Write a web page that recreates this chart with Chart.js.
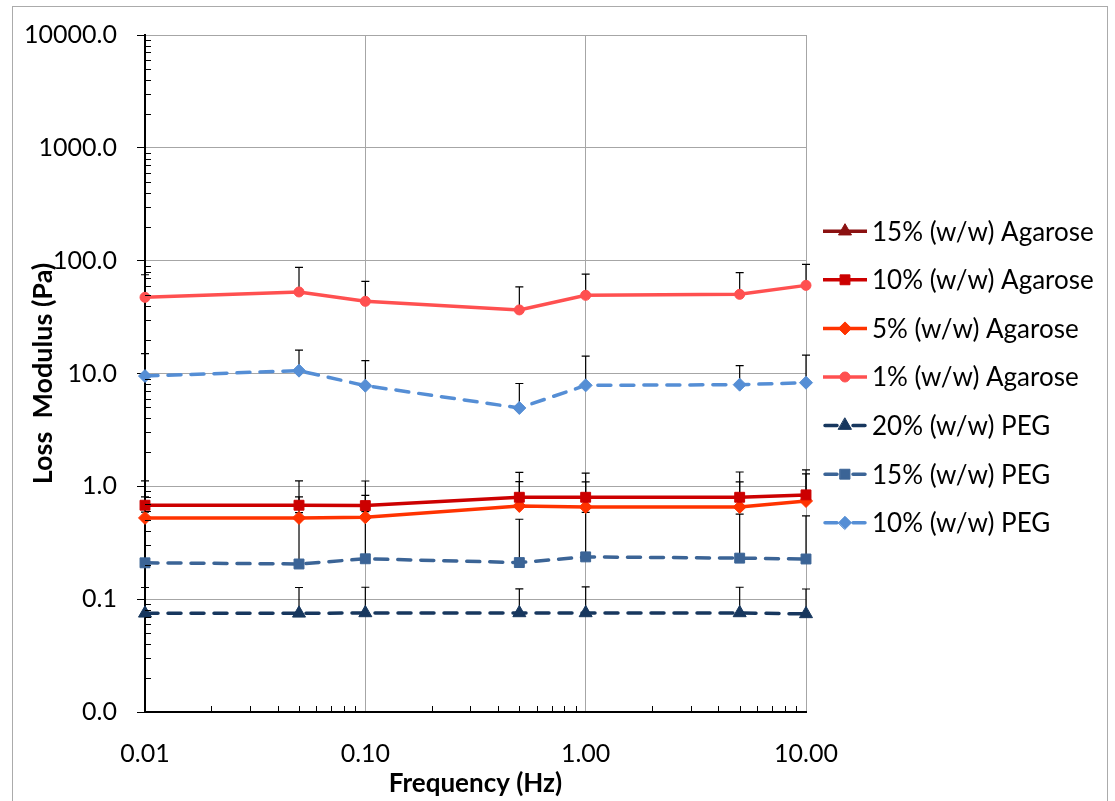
<!DOCTYPE html>
<html>
<head>
<meta charset="utf-8">
<script src="https://cdn.jsdelivr.net/npm/chart.js@4.4.1/dist/chart.umd.min.js"></script>
<style>
  html, body { margin: 0; padding: 0; background: #fff; }
  #wrap { position: relative; width: 1115px; height: 801px; }
</style>
</head>
<body>
<div id="wrap"><canvas id="chart"></canvas></div>
<script>
// frequency sweep (Hz)
const frequency = [0.01, 0.05, 0.1, 0.5, 1, 5, 10];
const xTicks = [0.01, 0.1, 1, 10];
const yTicks = [0.01, 0.1, 1, 10, 100, 1000, 10000];

// loss modulus (Pa) + plus-side error
const agarose15 = [null, null, null, null, null, null, null];
const agarose15Err = [null, null, null, null, null, null, null];
const agarose10 = [0.68, 0.68, 0.675, 0.80, 0.80, 0.80, 0.84];
const agarose10Err = [0.44, 0.44, 0.44, 0.53, 0.51, 0.54, 0.56];
const agarose5 = [0.525, 0.525, 0.532, 0.67, 0.656, 0.656, 0.742];
const agarose5Err = [0.28, 0.28, 0.30, 0.43, 0.44, 0.44, 0.55];
const agarose1 = [47.3, 52.8, 43.6, 36.6, 49.3, 50.3, 60.4];
const agarose1Err = [27.7, 34.3, 21.9, 21.9, 26.8, 27.9, 32.2];
const peg20 = [0.0749, 0.0749, 0.0755, 0.0755, 0.0755, 0.0755, 0.074];
const peg20Err = [0.052, 0.052, 0.052, 0.048, 0.053, 0.052, 0.049];
const peg15 = [0.210, 0.205, 0.228, 0.211, 0.237, 0.231, 0.227];
const peg15Err = [0.38, 0.38, 0.37, 0.30, 0.35, 0.335, 0.32];
const peg10 = [9.49, 10.6, 7.80, 4.95, 7.85, 7.96, 8.29];
const peg10Err = [5.5, 5.5, 5.2, 3.2, 6.4, 3.8, 6.25];

const FONT = 'Lato, "Open Sans", sans-serif';

function series(label, values, errs, color, style, radius, dashed) {
  return {
    label,
    data: frequency.map((f, i) => ({ x: f, y: values[i] })),
    errs,
    borderColor: color,
    backgroundColor: color,
    borderWidth: 3.5,
    borderDash: dashed ? [13, 10] : [],
    borderCapStyle: dashed ? 'round' : 'butt',
    pointStyle: style,
    pointRadius: radius,
    pointHoverRadius: radius,
    pointBorderWidth: 1,
    pointBackgroundColor: color,
    pointBorderColor: color,
    tension: 0,
    clip: false,
    spanGaps: false,
  };
}

const datasets = [
  series('15% (w/w) Agarose', agarose15, agarose15Err, '#8B1111', 'triangle', 7.5, false),
  series('10% (w/w) Agarose', agarose10, agarose10Err, '#CC0000', 'rect', 7, false),
  series('5% (w/w) Agarose', agarose5, agarose5Err, '#FF3300', 'rectRot', 6.5, false),
  series('1% (w/w) Agarose', agarose1, agarose1Err, '#FF5050', 'circle', 5, false),
  series('20% (w/w) PEG', peg20, peg20Err, '#17375E', 'triangle', 7.5, true),
  series('15% (w/w) PEG', peg15, peg15Err, '#3B6496', 'rect', 7, true),
  series('10% (w/w) PEG', peg10, peg10Err, '#558ED5', 'rectRot', 6.5, true),
];

// white background + outer frame
const framePlugin = {
  id: 'frame',
  beforeDraw(chart) {
    const ctx = chart.ctx;
    ctx.save();
    ctx.fillStyle = '#fff';
    ctx.fillRect(0, 0, chart.width, chart.height);
    ctx.strokeStyle = '#ABABAB';
    ctx.lineWidth = 1;
    ctx.strokeRect(12.5, 6.5, chart.width - 20, chart.height);
    ctx.restore();
  }
};

// minor log ticks pointing into the plot
const minorTicks = {
  id: 'minorTicks',
  afterDraw(chart) {
    const { ctx, scales: { x, y } } = chart;
    ctx.save();
    ctx.strokeStyle = '#000';
    ctx.lineWidth = 1;
    ctx.beginPath();
    for (let d = 0.01; d < 5000; d *= 10) {
      for (let k = 2; k <= 9; k++) {
        const py = Math.round(y.getPixelForValue(d * k)) + 0.5;
        ctx.moveTo(x.left, py);
        ctx.lineTo(x.left + 6, py);
      }
    }
    for (let d = 0.01; d < 5; d *= 10) {
      for (let k = 2; k <= 9; k++) {
        const px = Math.round(x.getPixelForValue(d * k)) + 0.5;
        ctx.moveTo(px, y.bottom);
        ctx.lineTo(px, y.bottom - 6);
      }
    }
    ctx.stroke();
    ctx.restore();
  }
};

// plus-only error bars
const errorBars = {
  id: 'errorBars',
  beforeDatasetsDraw(chart) {
    const { ctx, scales: { x, y } } = chart;
    ctx.save();
    ctx.strokeStyle = '#000';
    ctx.lineWidth = 1.2;
    chart.data.datasets.forEach(ds => {
      ds.data.forEach((p, i) => {
        const e = ds.errs[i];
        if (p.y == null || e == null) return;
        const px = x.getPixelForValue(p.x);
        const y0 = y.getPixelForValue(p.y);
        const y1 = y.getPixelForValue(p.y + e);
        ctx.beginPath();
        ctx.moveTo(px, y0);
        ctx.lineTo(px, y1);
        ctx.moveTo(px - 4, y1);
        ctx.lineTo(px + 4, y1);
        ctx.stroke();
      });
    });
    ctx.restore();
  }
};

// legend on the right: line + marker + label
const sideLegend = {
  id: 'sideLegend',
  afterDraw(chart) {
    const { ctx, chartArea } = chart;
    const x0 = chartArea.right + 17;
    const mid = (chartArea.top + chartArea.bottom) / 2 + 3.5;
    const step = 48.6;
    const n = chart.data.datasets.length;
    ctx.save();
    chart.data.datasets.forEach((ds, i) => {
      const yy = mid + (i - (n - 1) / 2) * step;
      ctx.strokeStyle = ds.borderColor;
      ctx.lineWidth = 3.5;
      ctx.setLineDash([]);
      ctx.beginPath();
      if (ds.borderDash.length) {
        ctx.lineCap = 'round';
        ctx.moveTo(x0 + 2, yy); ctx.lineTo(x0 + 14, yy);
        ctx.moveTo(x0 + 30, yy); ctx.lineTo(x0 + 42, yy);
      } else {
        ctx.lineCap = 'butt';
        ctx.moveTo(x0, yy); ctx.lineTo(x0 + 44, yy);
      }
      ctx.stroke();
      ctx.fillStyle = ds.pointBackgroundColor;
      ctx.lineWidth = 1;
      Chart.helpers.drawPoint(ctx, { pointStyle: ds.pointStyle, radius: ds.pointRadius, rotation: 0, borderWidth: 1 }, x0 + 22, yy);
      ctx.fillStyle = '#000';
      ctx.font = '26px ' + FONT;
      ctx.textBaseline = 'middle';
      ctx.textAlign = 'left';
      ctx.fillText(ds.label, x0 + 49, yy + 1);
    });
    ctx.restore();
  }
};

new Chart(document.getElementById('chart'), {
  type: 'line',
  data: { datasets },
  plugins: [framePlugin, errorBars, minorTicks, sideLegend],
  options: {
    responsive: true,
    maintainAspectRatio: false,
    animation: false,
    layout: { padding: { top: 32, right: 309, bottom: 0, left: 0 } },
    plugins: {
      legend: { display: false },
      tooltip: { enabled: false },
    },
    scales: {
      x: {
        type: 'logarithmic',
        min: 0.01,
        max: 10,
        afterBuildTicks: s => { s.ticks = xTicks.map(v => ({ value: v })); },
        afterFit: s => { s.height = 89; },
        ticks: {
          color: '#000',
          font: { family: FONT, size: 25 },
          padding: 27,
          maxRotation: 0,
          callback: v => Number(v).toFixed(2),
        },
        grid: { color: '#A6A6A6', lineWidth: 1, drawTicks: false },
        border: { color: '#000', width: 2 },
        title: {
          display: true,
          text: 'Frequency (Hz)',
          color: '#000',
          font: { family: FONT, size: 26, weight: 'bold' },
          padding: { top: 0, bottom: 2 },
        },
      },
      y: {
        type: 'logarithmic',
        min: 0.01,
        max: 10000,
        afterBuildTicks: s => { s.ticks = yTicks.map(v => ({ value: v })); },
        afterFit: s => { s.width = 145; },
        ticks: {
          color: '#000',
          font: { family: FONT, size: 25 },
          padding: 20,
          callback: v => Number(v).toFixed(1),
        },
        grid: { color: '#A6A6A6', lineWidth: 1, tickLength: 8, tickColor: '#000' },
        border: { color: '#000', width: 2 },
        title: {
          display: true,
          text: 'Loss  Modulus (Pa)',
          color: '#000',
          font: { family: FONT, size: 27, weight: 'bold' },
          padding: { top: 27, bottom: 0 },
        },
      },
    },
  },
});
</script>
</body>
</html>
